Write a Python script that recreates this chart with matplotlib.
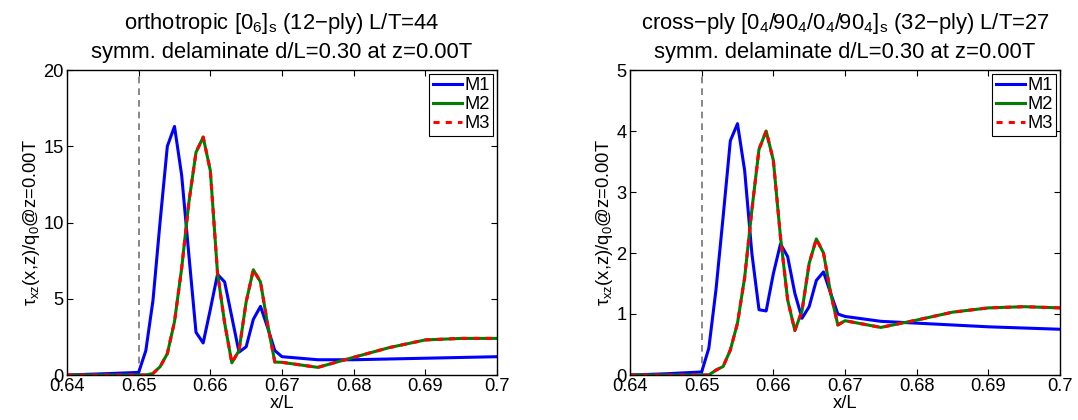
import matplotlib
matplotlib.use('Agg')
import matplotlib.pyplot as plt

plt.rcParams['font.family'] = ['Liberation Sans', 'DejaVu Sans']
plt.rcParams['mathtext.default'] = 'regular'
plt.rcParams['font.size'] = 13.2

# x/L sample positions (same grid for all curves)
x = [0.64, 0.645, 0.65, 0.651, 0.652, 0.653, 0.654, 0.655, 0.656, 0.657,
     0.658, 0.659, 0.660, 0.661, 0.662, 0.663, 0.664, 0.665, 0.666, 0.667,
     0.668, 0.669, 0.670, 0.675, 0.68, 0.685, 0.69, 0.695, 0.70]

# left panel: orthotropic
ortho_m1 = [0, 0.08, 0.17, 1.6, 4.9, 10.1, 15.0, 16.3, 13.1, 7.9,
            2.8, 2.1, 4.3, 6.6, 6.1, 3.8, 1.5, 1.85, 3.65, 4.5,
            3.1, 1.6, 1.2, 1.0, 1.0, 1.05, 1.1, 1.15, 1.2]
ortho_m2 = [0, 0, 0, 0.0, 0.1, 0.55, 1.4, 3.5, 7.0, 11.3,
            14.6, 15.6, 13.4, 6.7, 3.4, 0.8, 1.6, 4.8, 6.9, 6.1,
            3.3, 0.85, 0.83, 0.5, 1.16, 1.8, 2.3, 2.4, 2.4]
ortho_m3 = [0, 0, 0, 0.0, 0.1, 0.55, 1.4, 3.5, 7.0, 11.3,
            14.6, 15.6, 13.4, 6.7, 3.4, 0.8, 1.6, 4.8, 6.9, 6.1,
            3.3, 0.85, 0.83, 0.5, 1.16, 1.8, 2.3, 2.4, 2.4]

# right panel: cross-ply
cross_m1 = [0, 0.02, 0.05, 0.44, 1.4, 2.6, 3.84, 4.12, 3.35, 2.0,
            1.07, 1.05, 1.66, 2.15, 1.94, 1.34, 0.93, 1.12, 1.55, 1.69,
            1.34, 1.0, 0.96, 0.88, 0.85, 0.82, 0.79, 0.77, 0.75]
cross_m2 = [0, 0, 0, 0.0, 0.08, 0.14, 0.41, 0.85, 1.6, 2.7,
            3.7, 4.0, 3.52, 2.26, 1.23, 0.73, 1.05, 1.83, 2.23, 2.0,
            1.34, 0.82, 0.89, 0.78, 0.90, 1.03, 1.10, 1.12, 1.10]
cross_m3 = [0, 0, 0, 0.0, 0.08, 0.14, 0.41, 0.85, 1.6, 2.7,
            3.7, 4.0, 3.52, 2.26, 1.23, 0.73, 1.05, 1.83, 2.23, 2.0,
            1.34, 0.82, 0.89, 0.78, 0.90, 1.03, 1.10, 1.12, 1.10]

delam_x = 0.65
xticks = [0.64, 0.65, 0.66, 0.67, 0.68, 0.69, 0.70]
xticklabels = ['0.64', '0.65', '0.66', '0.67', '0.68', '0.69', '0.7']

panels = [
    ("orthotropic $[0_6]_s$ (12\u2212ply) L/T=44\nsymm. delaminate d/L=0.30 at z=0.00T",
     ortho_m1, ortho_m2, ortho_m3, 20, [0, 5, 10, 15, 20]),
    ("cross\u2212ply $[0_4/90_4/0_4/90_4]_s$ (32\u2212ply) L/T=27\nsymm. delaminate d/L=0.30 at z=0.00T",
     cross_m1, cross_m2, cross_m3, 5, [0, 1, 2, 3, 4, 5]),
]

fig = plt.figure(figsize=(10.78, 4.2), dpi=100)
lefts = [67 / 1078, 630 / 1078]

for left, (title, m1, m2, m3, ymax, yticks) in zip(lefts, panels):
    ax = fig.add_axes([left, 45 / 420, 430 / 1078, 305 / 420])
    ax.axvline(delam_x, color='0.45', linestyle=(0, (4, 3)), linewidth=1.2)
    ax.plot(x, m1, color='#0000ff', linewidth=2.2, label='M1')
    ax.plot(x, m2, color='#008000', linewidth=2.2, label='M2')
    ax.plot(x, m3, color='#ff0000', linewidth=2.2, dashes=(2.0, 2.0), label='M3')
    ax.set_xlim(0.64, 0.70)
    ax.set_ylim(0, ymax)
    ax.set_xticks(xticks)
    ax.set_xticklabels(xticklabels)
    ax.set_yticks(yticks)
    ax.tick_params(direction='in', top=True, right=True, length=4, width=0.8, pad=2.5)
    for s in ax.spines.values():
        s.set_linewidth(1.0)
    ax.set_xlabel('x/L', labelpad=0)
    ax.set_ylabel(r'$\tau_{xz}$(x,z)/q$_0$@z=0.00T', labelpad=1)
    ax.set_title(title, pad=9, linespacing=1.35)
    leg = ax.legend(loc='upper right', fancybox=False, edgecolor='black',
                    handlelength=1.6, handletextpad=0.1, borderaxespad=0.2,
                    labelspacing=0.1, borderpad=0.2, framealpha=1)
    leg.get_frame().set_linewidth(0.8)

fig.savefig('out.png', dpi=100)
